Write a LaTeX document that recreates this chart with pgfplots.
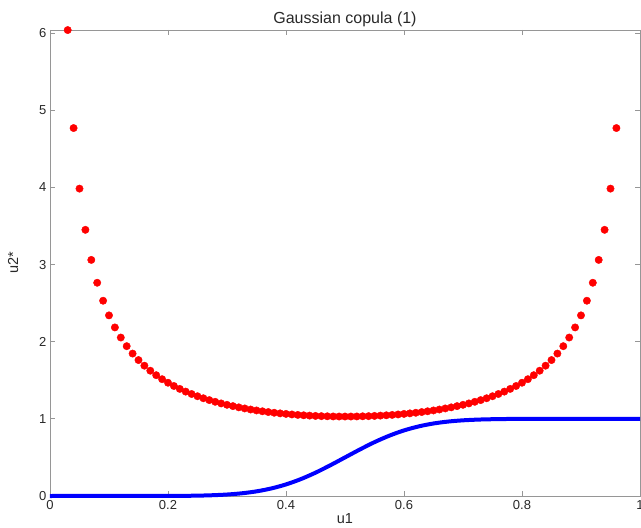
\documentclass[border=0pt]{standalone}
\usepackage{pgfplots}
\pgfplotsset{compat=1.18}
\usepackage{fontspec}
\setmainfont{Liberation Sans}
\definecolor{axgray}{RGB}{150,150,150}
\definecolor{txtgray}{RGB}{40,40,40}
\begin{document}
\begin{tikzpicture}
\begin{axis}[
  scale only axis,
  width=590pt, height=466pt,
  at={(0,0)}, anchor=south west,
  xmin=0, xmax=1, ymin=0, ymax=6.04,
  xtick={0,0.2,0.4,0.6,0.8,1},
  ytick={0,1,2,3,4,5,6},
  xticklabels={0,0.2,0.4,0.6,0.8,1},
  yticklabels={0,1,2,3,4,5,6},
  tick align=inside,
  major tick length=5pt,
  axis line style={axgray, line width=0.8pt},
  every tick/.style={axgray, line width=0.8pt},
  tick label style={font=\fontsize{13}{15}\selectfont, text=txtgray},
  xticklabel style={yshift=-1pt},
  yticklabel style={xshift=0pt},
  title={Gaussian copula (1)},
  title style={font=\fontsize{16}{18}\selectfont, text=txtgray, yshift=-6pt},
  xlabel={u1},
  ylabel={u2*},
  xlabel style={font=\fontsize{14.5}{16}\selectfont, text=txtgray, yshift=3pt},
  ylabel style={font=\fontsize{14.5}{16}\selectfont, text=txtgray, yshift=14pt},
  clip=false,
]
\addplot[only marks, mark=*, mark size=3.7pt, color=red, mark options={fill=red, draw=red}] coordinates {
(0.03,6.039)(0.04,4.769)(0.05,3.984)(0.06,3.450)(0.07,3.060)(0.08,2.764)(0.09,2.531)(0.10,2.341)
(0.11,2.185)(0.12,2.054)(0.13,1.942)(0.14,1.846)(0.15,1.762)(0.16,1.689)(0.17,1.624)(0.18,1.566)
(0.19,1.514)(0.20,1.468)(0.21,1.426)(0.22,1.388)(0.23,1.353)(0.24,1.322)(0.25,1.293)(0.26,1.267)
(0.27,1.243)(0.28,1.221)(0.29,1.200)(0.30,1.182)(0.31,1.165)(0.32,1.149)(0.33,1.135)(0.34,1.121)
(0.35,1.109)(0.36,1.098)(0.37,1.088)(0.38,1.079)(0.39,1.071)(0.40,1.064)(0.41,1.057)(0.42,1.051)
(0.43,1.046)(0.44,1.042)(0.45,1.038)(0.46,1.035)(0.47,1.033)(0.48,1.031)(0.49,1.030)(0.50,1.030)
(0.51,1.030)(0.52,1.031)(0.53,1.033)(0.54,1.035)(0.55,1.038)(0.56,1.042)(0.57,1.046)(0.58,1.051)
(0.59,1.057)(0.60,1.064)(0.61,1.071)(0.62,1.079)(0.63,1.088)(0.64,1.098)(0.65,1.109)(0.66,1.121)
(0.67,1.135)(0.68,1.149)(0.69,1.165)(0.70,1.182)(0.71,1.200)(0.72,1.221)(0.73,1.243)(0.74,1.267)
(0.75,1.293)(0.76,1.322)(0.77,1.353)(0.78,1.388)(0.79,1.426)(0.80,1.468)(0.81,1.514)(0.82,1.566)
(0.83,1.624)(0.84,1.689)(0.85,1.762)(0.86,1.846)(0.87,1.942)(0.88,2.054)(0.89,2.185)(0.90,2.341)
(0.91,2.531)(0.92,2.764)(0.93,3.060)(0.94,3.450)(0.95,3.984)(0.96,4.769)
};
\addplot[color=blue, line width=4pt, smooth] coordinates {
(0,0)(0.2,0.0009)(0.25,0.0048)(0.275,0.0099)(0.3,0.0191)(0.325,0.0349)(0.35,0.0601)(0.375,0.0977)
(0.4,0.150)(0.425,0.2185)(0.45,0.302)(0.475,0.398)(0.5,0.5)(0.525,0.602)(0.55,0.698)(0.575,0.7815)
(0.6,0.850)(0.625,0.9023)(0.65,0.9399)(0.675,0.9651)(0.7,0.9809)(0.725,0.9901)(0.75,0.9952)
(0.8,0.9991)(1,1)
};
\end{axis}
\pgfresetboundingbox
\useasboundingbox (-50pt,-32pt) rectangle (591pt,496pt);
\end{tikzpicture}
\end{document}
